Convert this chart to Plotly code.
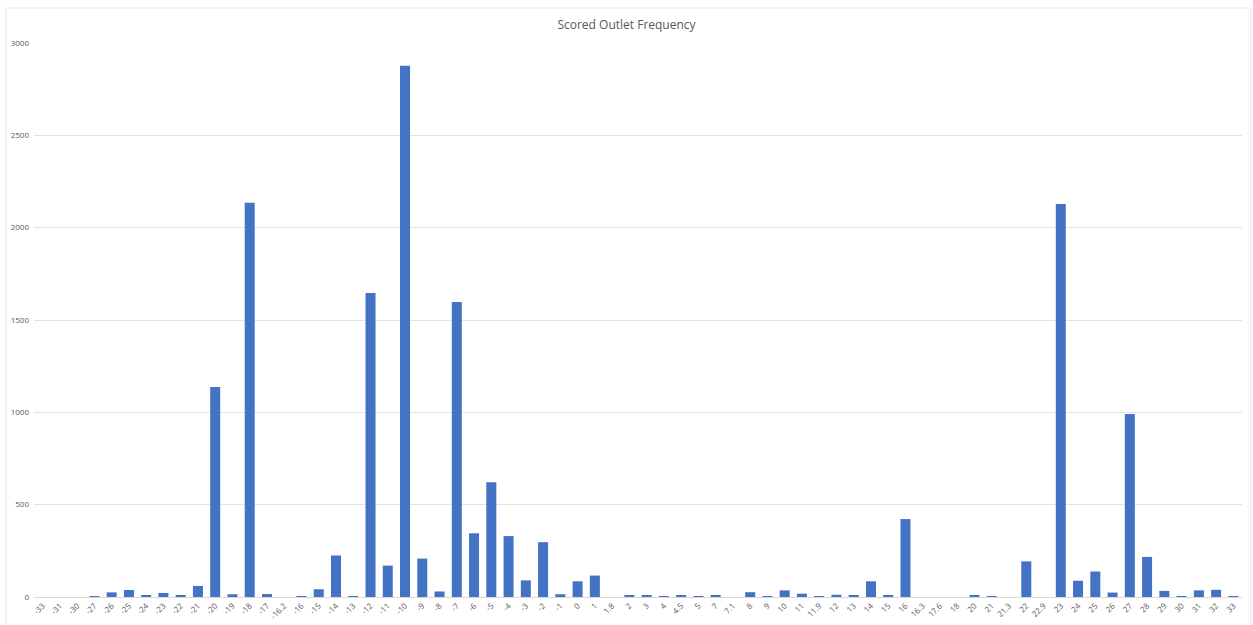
import plotly.graph_objects as go

categories = ["-33", "-31", "-30", "-27", "-26", "-25", "-24", "-23", "-22", "-21",
              "-20", "-19", "-18", "-17", "-16.2", "-16", "-15", "-14", "-13", "-12",
              "-11", "-10", "-9", "-8", "-7", "-6", "-5", "-4", "-3", "-2",
              "-1", "0", "1", "1.8", "2", "3", "4", "4.5", "5", "7",
              "7.1", "8", "9", "10", "11", "11.9", "12", "13", "14", "15",
              "16", "16.3", "17.6", "18", "20", "21", "21.3", "22", "22.9", "23",
              "24", "25", "26", "27", "28", "29", "30", "31", "32", "33"]

frequency = [0, 0, 0, 4, 25, 38, 6, 22, 8, 60,
             1137, 15, 2135, 16, 0, 5, 42, 225, 3, 1646,
             170, 2877, 208, 30, 1597, 345, 622, 330, 90, 297,
             15, 85, 116, 0, 8, 7, 3, 10, 5, 10,
             0, 26, 5, 36, 18, 1, 12, 10, 85, 6,
             422, 0, 0, 0, 11, 2, 0, 193, 0, 2128,
             88, 138, 24, 991, 217, 33, 5, 36, 39, 3]

y_ticks = [0, 500, 1000, 1500, 2000, 2500, 3000]

fig = go.Figure(
    go.Bar(
        x=categories,
        y=frequency,
        marker=dict(color="#4472C4", line=dict(width=0)),
    )
)

W, H = 1253, 625
L, R, T, B = 34, 11, 43, 28
pw, ph = W - L - R, H - T - B

def px_x(v):
    return (v - L) / pw

def px_y(v):
    return (H - B - v) / ph

fig.update_layout(
    width=W,
    height=H,
    margin=dict(l=L, r=R, t=T, b=B, autoexpand=False),
    paper_bgcolor="white",
    plot_bgcolor="white",
    bargap=0.42,
    showlegend=False,
    font=dict(family="Open Sans, Liberation Sans, sans-serif", color="#595959"),
    title=dict(
        text="Scored Outlet Frequency",
        x=0.5,
        xanchor="center",
        y=1 - 25 / H,
        yanchor="middle",
        font=dict(size=12, color="#595959"),
    ),
    xaxis=dict(
        type="category",
        tickangle=-45,
        tickfont=dict(size=8, color="#595959"),
        showgrid=False,
        showline=True,
        linecolor="#D9D9D9",
        linewidth=1,
        ticks="",
        automargin=False,
        fixedrange=True,
    ),
    yaxis=dict(
        range=[0, 3000],
        tickvals=y_ticks,
        tickfont=dict(size=8, color="#595959"),
        showgrid=True,
        gridcolor="#E3E3E3",
        gridwidth=1,
        zeroline=False,
        showline=False,
        ticks="",
        automargin=False,
        ticklabelstandoff=4,
    ),
    shapes=[
        dict(type="line", xref="paper", yref="paper",
             x0=px_x(6), x1=px_x(6), y0=px_y(H + 5), y1=px_y(8),
             line=dict(color="#E6E6E6", width=1)),
        dict(type="line", xref="paper", yref="paper",
             x0=px_x(6), x1=px_x(1251), y0=px_y(8), y1=px_y(8),
             line=dict(color="#E6E6E6", width=1)),
        dict(type="line", xref="paper", yref="paper",
             x0=px_x(1251), x1=px_x(1251), y0=px_y(H + 5), y1=px_y(8),
             line=dict(color="#E6E6E6", width=1)),
    ],
)

fig.write_html("out.html")
